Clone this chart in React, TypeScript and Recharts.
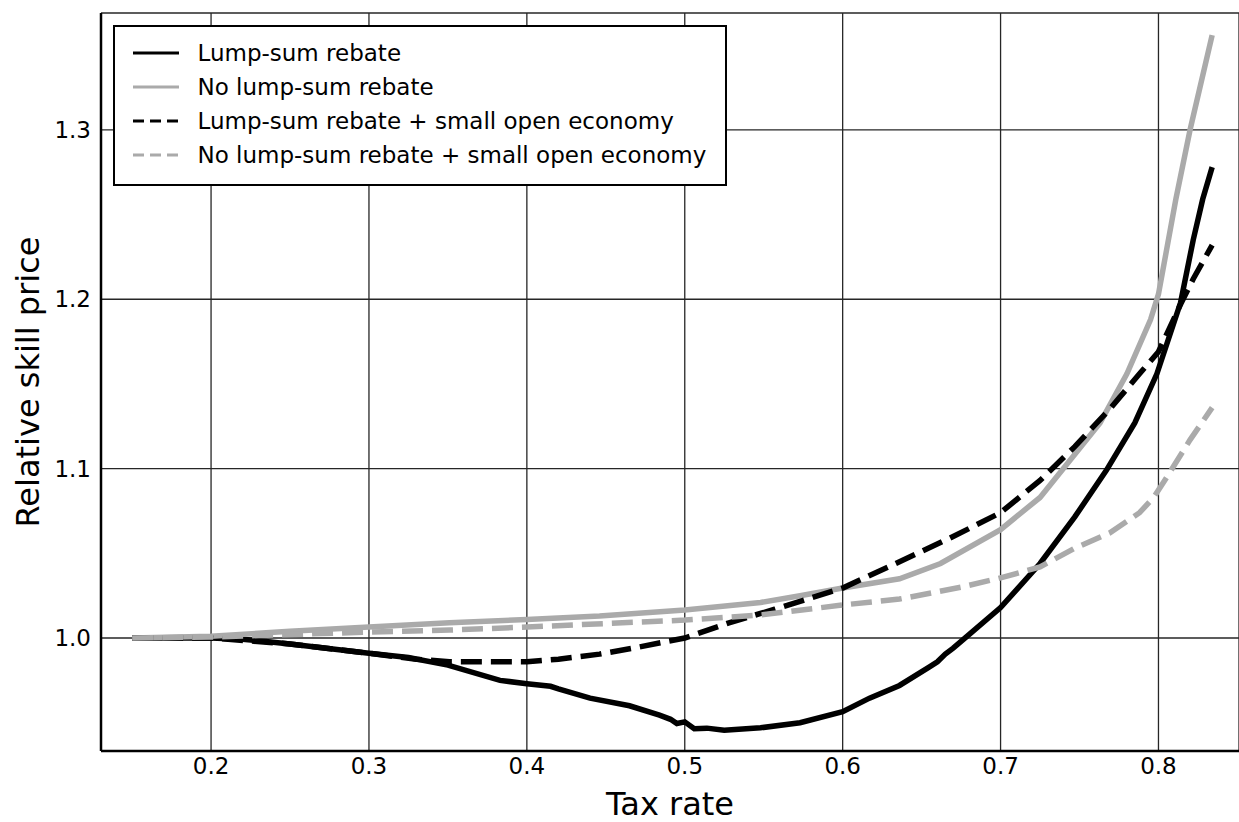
import { LineChart, Line, XAxis, YAxis, CartesianGrid, Legend, Label } from "recharts";

// Lump-sum rebate (black solid)
const TAX_LUMP = [0.15, 0.2, 0.22, 0.25, 0.3, 0.325, 0.35, 0.383, 0.4, 0.415, 0.42, 0.44, 0.465, 0.484, 0.491, 0.495, 0.5, 0.506, 0.514, 0.525, 0.548, 0.573, 0.6, 0.617, 0.636, 0.655, 0.66, 0.665, 0.67, 0.68, 0.7, 0.725, 0.747, 0.767, 0.785, 0.799, 0.814, 0.822, 0.828, 0.834];
const PRICE_LUMP = [1.0, 1.0, 0.9993, 0.9965, 0.991, 0.9885, 0.984, 0.975, 0.973, 0.9715, 0.97, 0.9645, 0.96, 0.9545, 0.952, 0.9495, 0.9505, 0.9465, 0.9468, 0.9455, 0.947, 0.95, 0.9565, 0.9645, 0.972, 0.983, 0.986, 0.9905, 0.994, 1.002, 1.018, 1.044, 1.0715, 1.099, 1.127, 1.156, 1.198, 1.235, 1.259, 1.278];

// No lump-sum rebate (grey solid)
const TAX_NOLUMP = [0.15, 0.2, 0.25, 0.3, 0.351, 0.4, 0.446, 0.5, 0.548, 0.573, 0.6, 0.636, 0.662, 0.7, 0.725, 0.744, 0.763, 0.78, 0.795, 0.8, 0.811, 0.82, 0.834];
const PRICE_NOLUMP = [1.0, 1.001, 1.004, 1.0065, 1.009, 1.011, 1.013, 1.0165, 1.021, 1.025, 1.0295, 1.035, 1.044, 1.064, 1.083, 1.105, 1.127, 1.156, 1.188, 1.203, 1.259, 1.3, 1.356];

// Lump-sum rebate + small open economy (black dashed)
const TAX_LUMP_SOE = [0.15, 0.2, 0.25, 0.3, 0.33, 0.351, 0.4, 0.42, 0.446, 0.471, 0.5, 0.528, 0.557, 0.6, 0.636, 0.668, 0.7, 0.725, 0.747, 0.769, 0.788, 0.8, 0.814, 0.822, 0.834];
const PRICE_LUMP_SOE = [1.0, 1.0, 0.9965, 0.991, 0.9875, 0.986, 0.986, 0.9875, 0.9905, 0.9947, 1.0, 1.009, 1.017, 1.0295, 1.045, 1.059, 1.074, 1.093, 1.113, 1.135, 1.156, 1.169, 1.197, 1.212, 1.232];

// No lump-sum rebate + small open economy (grey dashed)
const TAX_NOLUMP_SOE = [0.15, 0.2, 0.3, 0.351, 0.4, 0.5, 0.548, 0.6, 0.636, 0.675, 0.7, 0.725, 0.747, 0.769, 0.788, 0.797, 0.807, 0.82, 0.834];
const PRICE_NOLUMP_SOE = [1.0, 1.0006, 1.0035, 1.0047, 1.0065, 1.0106, 1.0136, 1.0195, 1.023, 1.03, 1.0355, 1.042, 1.053, 1.062, 1.074, 1.083, 1.0975, 1.117, 1.136];

const X_TICKS = [0.2, 0.3, 0.4, 0.5, 0.6, 0.7, 0.8];
const Y_TICKS = [1.0, 1.1, 1.2, 1.3];

const toPoints = (xs: number[], ys: number[]) => xs.map((x, i) => ({ x, y: ys[i] }));

const GREY = "#aaaaaa";
const FONT = "DejaVu Sans";

const SERIES = [
  { name: "Lump-sum rebate", data: toPoints(TAX_LUMP, PRICE_LUMP), color: "#000", dash: undefined, legendDash: undefined },
  { name: "No lump-sum rebate", data: toPoints(TAX_NOLUMP, PRICE_NOLUMP), color: GREY, dash: undefined, legendDash: undefined },
  { name: "Lump-sum rebate + small open economy", data: toPoints(TAX_LUMP_SOE, PRICE_LUMP_SOE), color: "#000", dash: "21 9", legendDash: "11 6" },
  { name: "No lump-sum rebate + small open economy", data: toPoints(TAX_NOLUMP_SOE, PRICE_NOLUMP_SOE), color: GREY, dash: "21 9", legendDash: "11 6" },
];

function LegendBox() {
  return (
    <div
      style={{
        boxSizing: "border-box",
        width: 614,
        height: 161,
        background: "#fff",
        border: "2.5px solid #000",
        paddingTop: 8.5,
        fontFamily: FONT,
        fontSize: 23,
        color: "#000",
      }}
    >
      {SERIES.map((s) => (
        <div key={s.name} style={{ display: "flex", alignItems: "center", height: 34, whiteSpace: "nowrap" }}>
          <svg width={46} height={10} style={{ marginLeft: 17.5, flexShrink: 0 }}>
            <line x1={0} y1={5} x2={46} y2={5} stroke={s.color} strokeWidth={3} strokeDasharray={s.legendDash} />
          </svg>
          <span style={{ marginLeft: 19 }}>{s.name}</span>
        </div>
      ))}
    </div>
  );
}

// tick text drawn by hand so the font size is certain
function AxisTick({ x, y, payload, side }: any) {
  const label = Number(payload.value).toFixed(1);
  if (side === "bottom") {
    return (
      <text x={x} y={y + 19} textAnchor="middle" fontFamily={FONT} fontSize={23} fill="#000">
        {label}
      </text>
    );
  }
  return (
    <text x={x} y={y + 8} textAnchor="end" fontFamily={FONT} fontSize={23} fill="#000">
      {label}
    </text>
  );
}

export default function App() {
  return (
    <div style={{ position: "absolute", left: 0, top: 0, background: "#fff" }}>
      <LineChart width={1239} height={822} margin={{ top: 13, right: 0, bottom: 0, left: 0 }}>
        <CartesianGrid stroke="#262626" strokeWidth={1.3} />
        <XAxis
          dataKey="x"
          type="number"
          domain={[0.1303, 0.851]}
          ticks={X_TICKS}
          allowDataOverflow
          height={71}
          tick={<AxisTick side="bottom" />}
          tickLine={false}
          tickSize={0}
          tickMargin={4}
          axisLine={{ stroke: "#000", strokeWidth: 2.5 }}
        >
          <Label
            content={({ viewBox }: any) => (
              <text x={viewBox.x + viewBox.width / 2} y={viewBox.y + 64} textAnchor="middle" fontFamily={FONT} fontSize={32} fill="#000">
                Tax rate
              </text>
            )}
          />
        </XAxis>
        <YAxis
          type="number"
          domain={[0.9333, 1.369]}
          ticks={Y_TICKS}
          allowDataOverflow
          width={101}
          tick={<AxisTick side="left" />}
          tickLine={false}
          tickSize={0}
          tickMargin={10}
          axisLine={{ stroke: "#000", strokeWidth: 2.5 }}
        >
          <Label
            content={({ viewBox }: any) => {
              const cy = viewBox.y + viewBox.height / 2;
              return (
                <text x={39} y={cy} transform={`rotate(-90, 39, ${cy})`} textAnchor="middle" fontFamily={FONT} fontSize={32} fill="#000">
                  Relative skill price
                </text>
              );
            }}
          />
        </YAxis>
        {SERIES.map((s) => (
          <Line
            key={s.name}
            data={s.data}
            dataKey="y"
            name={s.name}
            type="linear"
            stroke={s.color}
            strokeWidth={5.5}
            strokeDasharray={s.dash}
            dot={false}
            activeDot={false}
            isAnimationActive={false}
          />
        ))}
        <Legend
          layout="vertical"
          verticalAlign="middle"
          align="center"
          content={() => <LegendBox />}
          wrapperStyle={{ left: 113, top: 25, width: 614, height: 161 }}
        />
      </LineChart>
    </div>
  );
}
